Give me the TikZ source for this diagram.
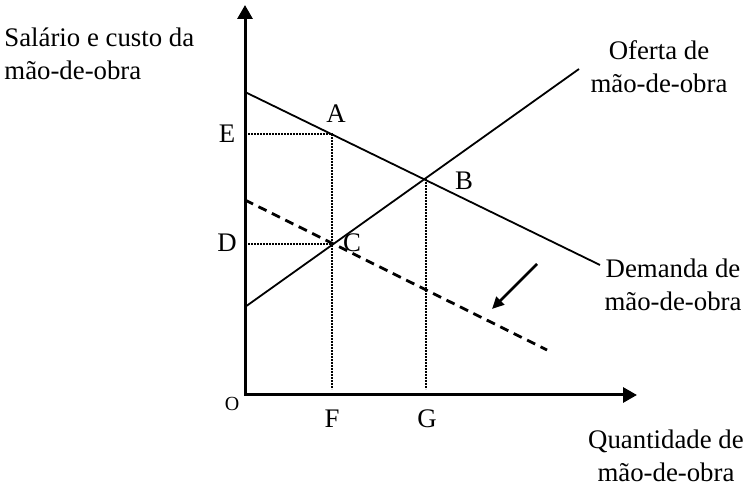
\documentclass[tikz,border=0pt]{standalone}
\usepackage{fontspec}
\setmainfont{Liberation Serif}
\usetikzlibrary{arrows.meta,positioning}

\begin{document}
\begin{tikzpicture}[x=0.5pt,y=-0.5pt,
    eixo/.style={line width=1.5pt,{Triangle[length=7pt,width=7.5pt]}-{Triangle[length=7pt,width=7.5pt]}},
    curva/.style={line width=0.9pt},
    guia/.style={line width=1.3pt,dash pattern=on 0.9pt off 0.6pt},
    rotulo/.style={font=\fontsize{13.4}{16.5}\selectfont,inner sep=0pt},
    ponto/.style={font=\fontsize{13.4}{15}\selectfont,inner sep=0pt}]
    \useasboundingbox (0,0) rectangle (750,485);

    % eixos
    \coordinate (O) at (245,395);
    \coordinate (Ytop) at (245,5);
    \coordinate (Xtop) at (637,395);
    \draw[eixo] (Ytop) -- (O) -- (Xtop);

    % pontos
    \coordinate (A) at (332,134);
    \coordinate (B) at (426,179);
    \coordinate (C) at (333,244);
    \coordinate (E) at (245,134);
    \coordinate (D) at (245,244);
    \coordinate (F) at (332,389);
    \coordinate (G) at (426,389);

    % demanda, oferta e nova demanda
    \coordinate (D1) at (245,92);
    \coordinate (D2) at (600,265);
    \coordinate (S1) at (245,307);
    \coordinate (S2) at (579,69);
    \coordinate (N1) at (245,200);
    \coordinate (N2) at (547,350);
    \draw[curva] (D1) -- (D2);
    \draw[curva] (S1) -- (S2);
    \draw[line width=1.4pt,dash pattern=on 4.5pt off 3pt] (N1) -- (N2);

    % linhas pontilhadas
    \draw[guia] (E) -- (A) -- (F);
    \draw[guia] (D) -- (C);
    \draw[guia] (B) -- (G);

    % seta de deslocamento
    \coordinate (setaIni) at (537,264);
    \coordinate (setaFim) at (492,309);
    \draw[line width=1.4pt,-{Triangle[length=6pt,width=5.5pt]}] (setaIni) -- (setaFim);

    % textos dos eixos e curvas
    \node[rotulo,align=left,anchor=west] (lblY) at (4,54) {Salário e custo da\\mão-de-obra};
    \node[rotulo,align=center] (lblOferta) at (659,67) {Oferta de\\mão-de-obra};
    \node[rotulo,align=center] (lblDemanda) at (673,285) {Demanda de\\mão-de-obra};
    \node[rotulo,align=center] (lblX) at (666,456) {Quantidade de\\mão-de-obra};

    % rótulos dos pontos
    \node[ponto] (lA) at (336,114) {A};
    \node[ponto] (lB) at (464,181) {B};
    \node[ponto] (lC) at (352,243) {C};
    \node[ponto] (lD) at (227,243) {D};
    \node[ponto] (lE) at (227,134) {E};
    \node[ponto] (lF) at (332,419) {F};
    \node[ponto] (lG) at (427,419) {G};
    \node[ponto,font=\fontsize{10}{12}\selectfont] (lO) at (232,404) {O};
\end{tikzpicture}
\end{document}
